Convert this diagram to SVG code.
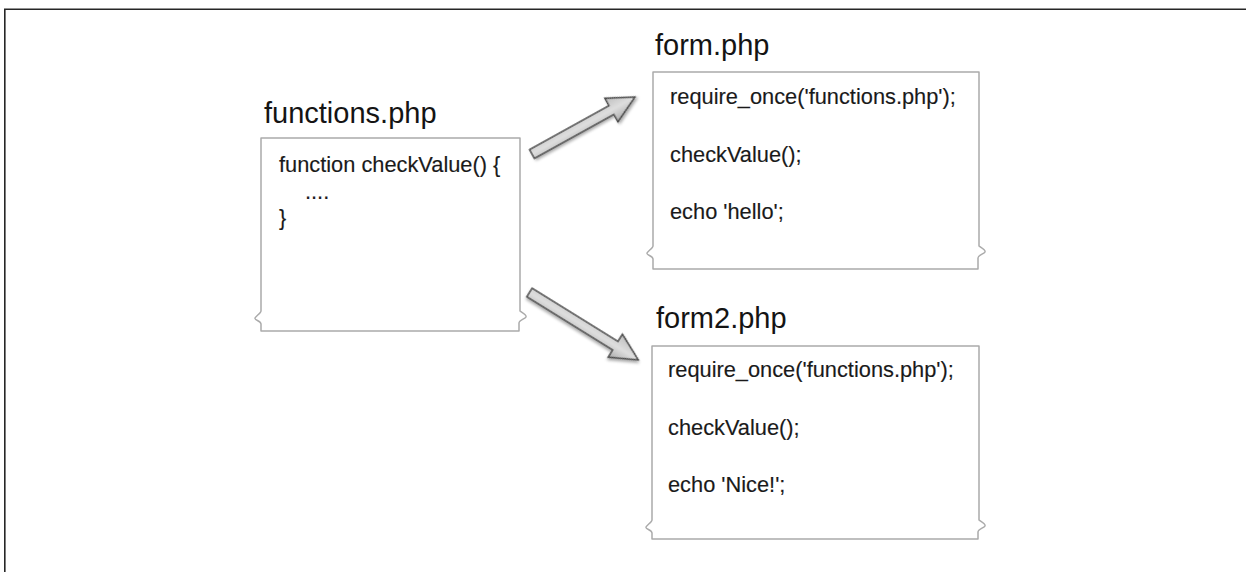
<svg xmlns="http://www.w3.org/2000/svg" width="1246" height="572" viewBox="0 0 1246 572">
  <defs>
    <style>
      .frame { fill: none; stroke: #262626; stroke-width: 1.6; }
      .box { fill: #ffffff; stroke: #ababab; stroke-width: 1.5; stroke-linejoin: round; }
      .title { font-family: "Liberation Sans", Arial, Helvetica, sans-serif; font-size: 29px; fill: #141414; }
      .code { font-family: "Liberation Sans", Arial, Helvetica, sans-serif; font-size: 21.8px; fill: #1a1a1a; stroke: #1a1a1a; stroke-width: 0.15; }
      .arrow { fill: url(#arrowGrad); stroke: #4d4d4d; stroke-width: 1.5; stroke-linejoin: miter; filter: url(#shadow); }
    </style>
    <linearGradient id="arrowGrad" x1="0" y1="0" x2="0" y2="1">
      <stop offset="0" stop-color="#bdbdbd"/>
      <stop offset="0.5" stop-color="#dedede"/>
      <stop offset="1" stop-color="#ababab"/>
    </linearGradient>
    <filter id="shadow" x="-20%" y="-40%" width="140%" height="180%">
      <feDropShadow dx="1" dy="2" stdDeviation="1.6" flood-color="#000" flood-opacity="0.35"/>
    </filter>
  </defs>

  <rect width="1246" height="572" fill="#ffffff"/>
  <path class="frame" d="M4.8 572 V9.3 H1246"/>

  <g id="functions-php">
    <text class="title" x="264" y="123">functions.php</text>
    <path class="box" d="M261 138 H520 V311 C521 312 527 315 526 317 C525 319 519 320 519 323 V331 H261 V324 C261 321 254 320 255 318 C256 316 261 313 261 311 Z"/>
    <text class="code" x="279" y="172">function checkValue() {</text>
    <text class="code" x="305" y="198.5">....</text>
    <text class="code" x="279" y="225">}</text>
  </g>

  <g id="form-php">
    <text class="title" x="655" y="55">form.php</text>
    <path class="box" d="M653 72 H979 V246 C980 247 986 250 985 252 C984 254 978 255 978 258 V269 H653 V259 C653 256 646 255 647 253 C648 251 653 248 653 246 Z"/>
    <text class="code" x="670" y="104">require_once('functions.php');</text>
    <text class="code" x="670" y="161.5">checkValue();</text>
    <text class="code" x="670" y="219">echo 'hello';</text>
  </g>

  <g id="form2-php">
    <text class="title" x="656" y="328">form2.php</text>
    <path class="box" d="M652 346 H979 V520 C980 521 986 524 985 526 C984 528 978 529 978 532 V539 H652 V533 C652 530 645 529 646 527 C647 525 652 522 652 520 Z"/>
    <text class="code" x="668" y="377">require_once('functions.php');</text>
    <text class="code" x="668" y="435">checkValue();</text>
    <text class="code" x="668" y="492">echo 'Nice!';</text>
  </g>

  <g id="connectors">
    <g transform="translate(532 154) rotate(-28.96)">
      <polygon class="arrow" points="0,-5 90.7,-5 90.7,-13.5 117.7,0 90.7,13.5 90.7,5 0,5"/>
    </g>
    <g transform="translate(529.5 292.5) rotate(31.8)">
      <polygon class="arrow" points="0,-5 101,-5 101,-13.5 128,0 101,13.5 101,5 0,5"/>
    </g>
  </g>
</svg>
